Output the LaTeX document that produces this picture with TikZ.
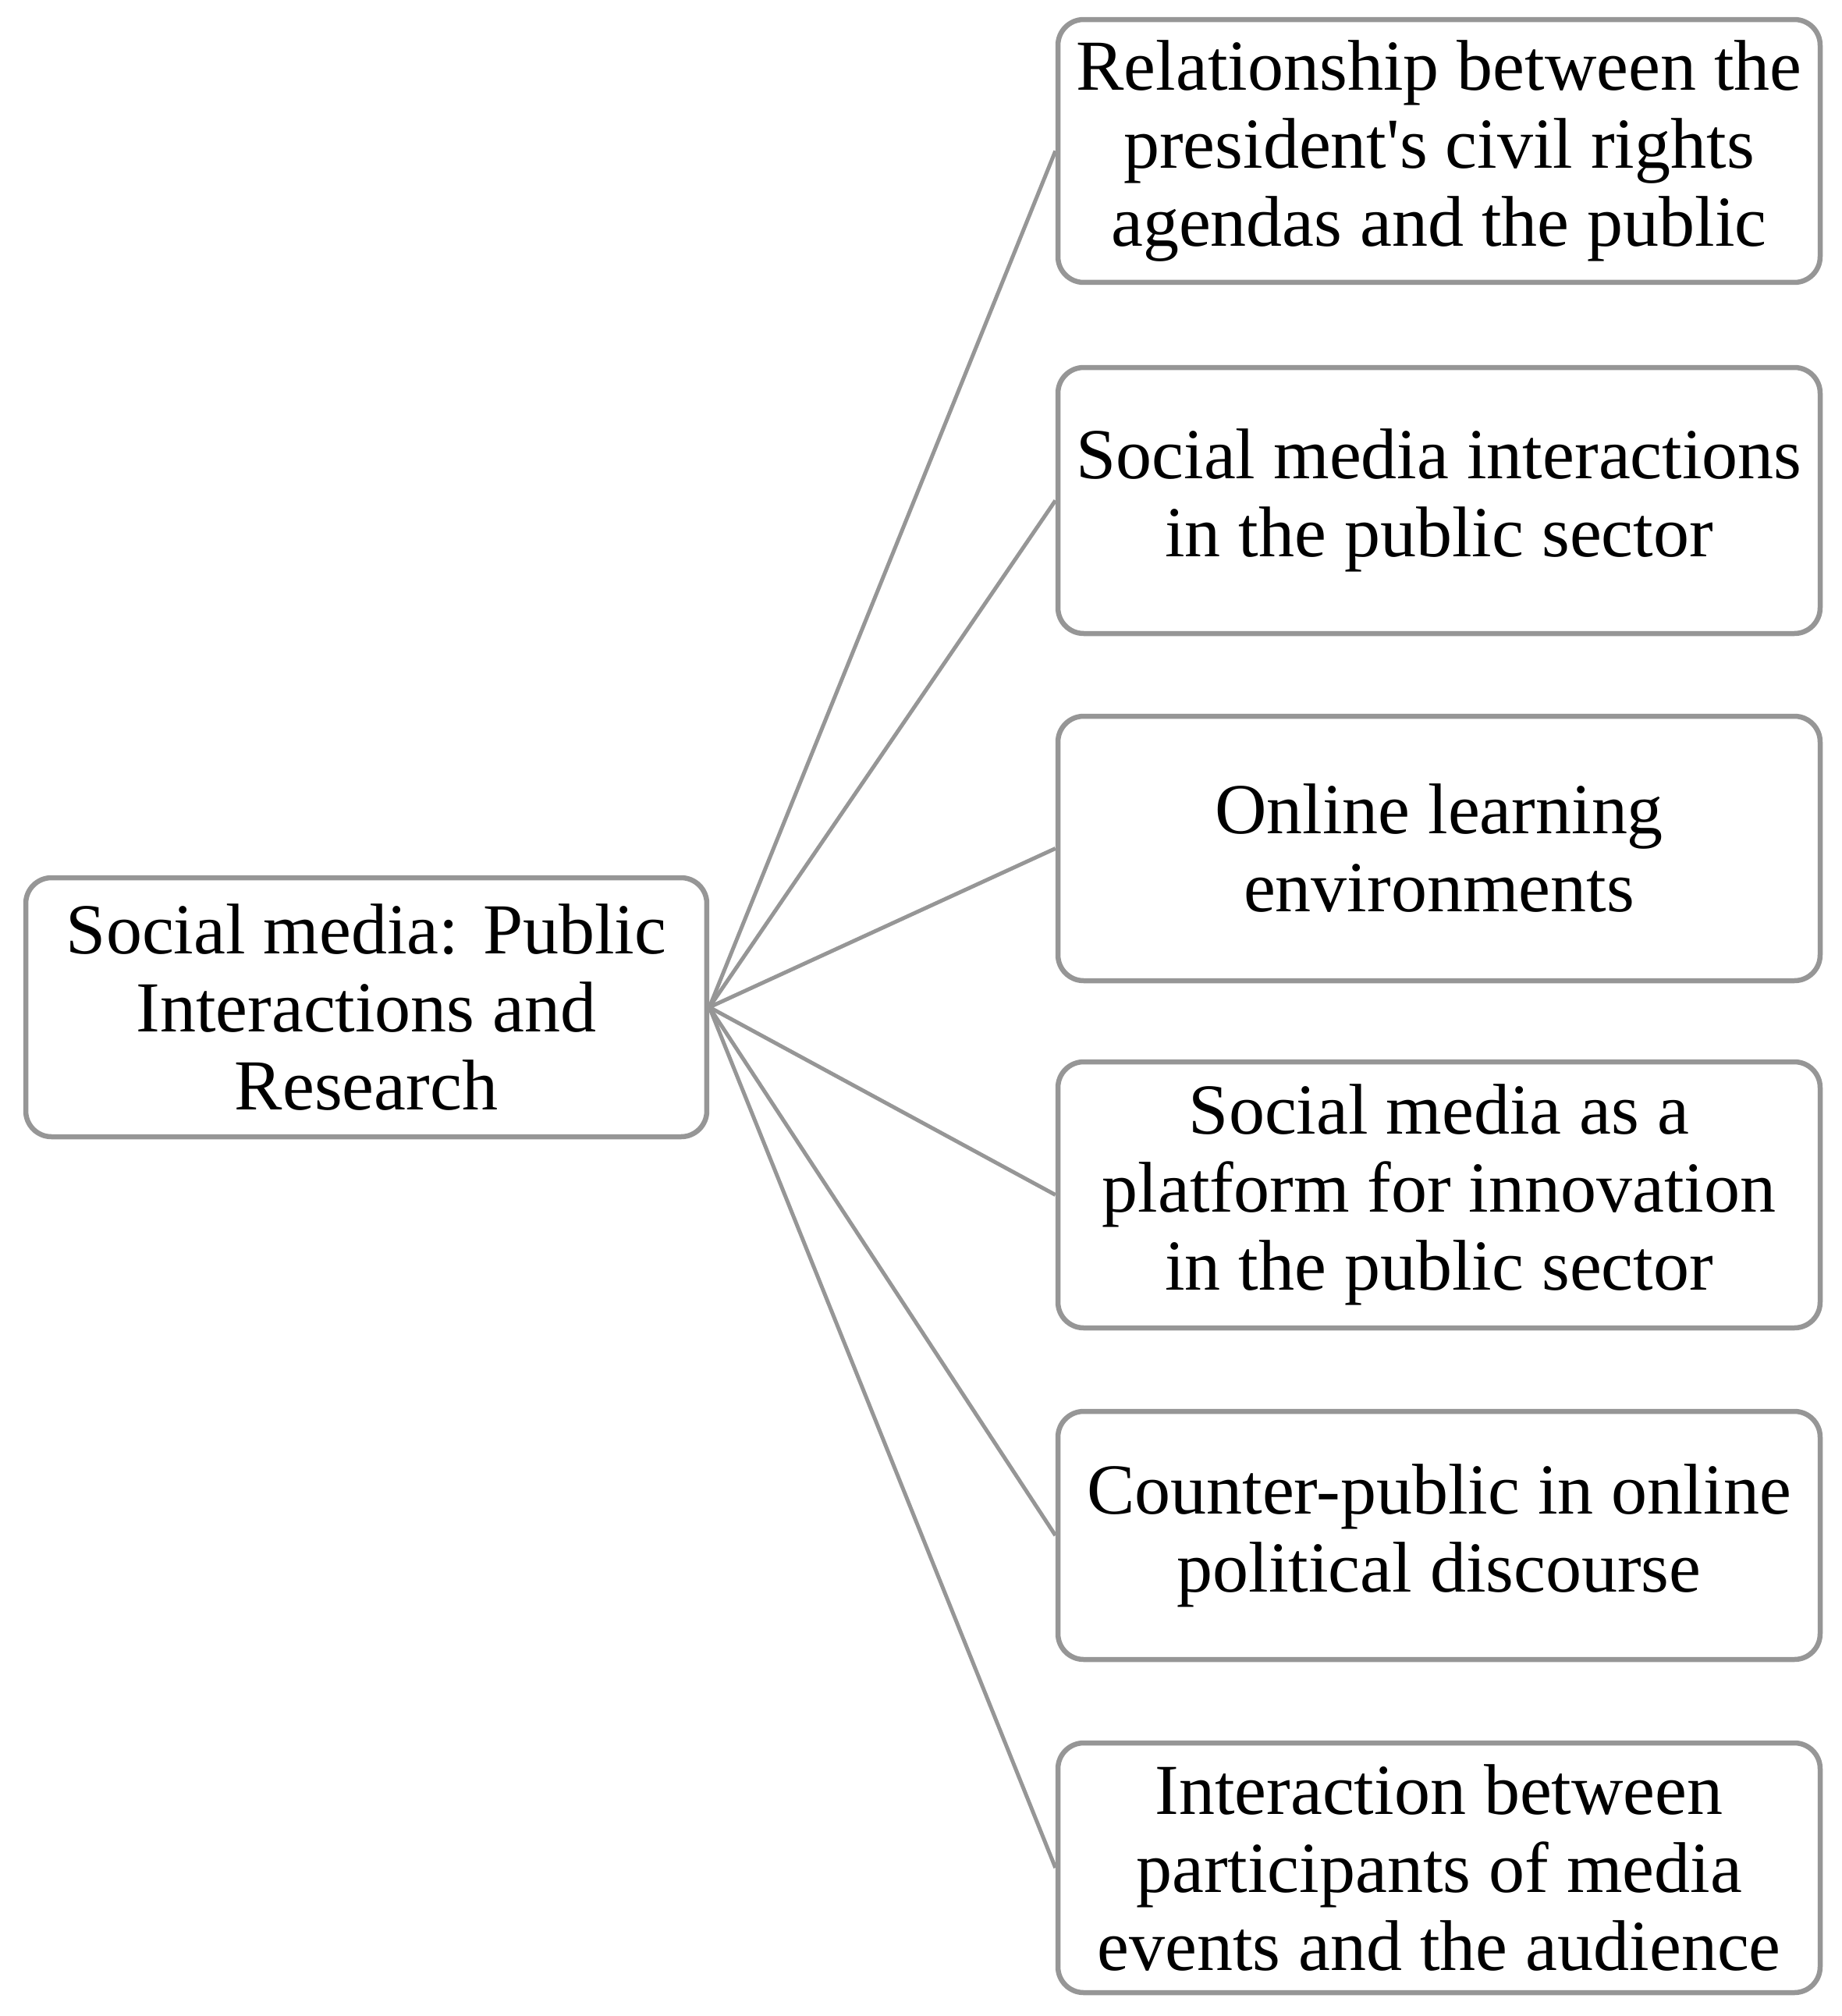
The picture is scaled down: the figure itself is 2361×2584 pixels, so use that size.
\documentclass[tikz,border=0pt]{standalone}
\usepackage{fontspec}
\setmainfont{Liberation Serif}
\newfontfamily\plainquote{Liberation Serif}[Ligatures=ResetAll]
\definecolor{boxgray}{RGB}{150,150,150}
\begin{document}
\begin{tikzpicture}[x=0.1pt,y=-0.1pt,
  box/.style={draw=boxgray,line width=0.65pt,rounded corners=3.3pt,fill=white,
    align=center,inner sep=0pt,font=\fontsize{9.2}{10}\selectfont},
  link/.style={draw=boxgray,line width=0.5pt}]
\useasboundingbox (0,0) rectangle (2361,2584);
\node[box,minimum width=87.3pt,minimum height=33.2pt] (root) at (469.5,1291)
  {Social media: Public\\Interactions and\\Research};
\node[box,minimum width=97.7pt,minimum height=33.7pt] (b1) at (1844.5,193.5)
  {Relationship between the\\president{\plainquote '}s civil rights\\agendas and the public};
\node[box,minimum width=97.7pt,minimum height=34.1pt] (b2) at (1844.5,641.5)
  {Social media interactions\\in the public sector};
\node[box,minimum width=97.7pt,minimum height=33.9pt] (b3) at (1844.5,1087.5)
  {Online learning\\environments};
\node[box,minimum width=97.7pt,minimum height=34.1pt] (b4) at (1844.5,1531.5)
  {Social media as a\\platform for innovation\\in the public sector};
\node[box,minimum width=97.7pt,minimum height=31.8pt] (b5) at (1844.5,1968)
  {Counter-public in online\\political discourse};
\node[box,minimum width=97.7pt,minimum height=32pt] (b6) at (1844.5,2394)
  {Interaction between\\participants of media\\events and the audience};
\foreach \b in {b1,b2,b3,b4,b5,b6}
  \draw[link] (root.east) -- (\b.west);
\end{tikzpicture}
\end{document}
